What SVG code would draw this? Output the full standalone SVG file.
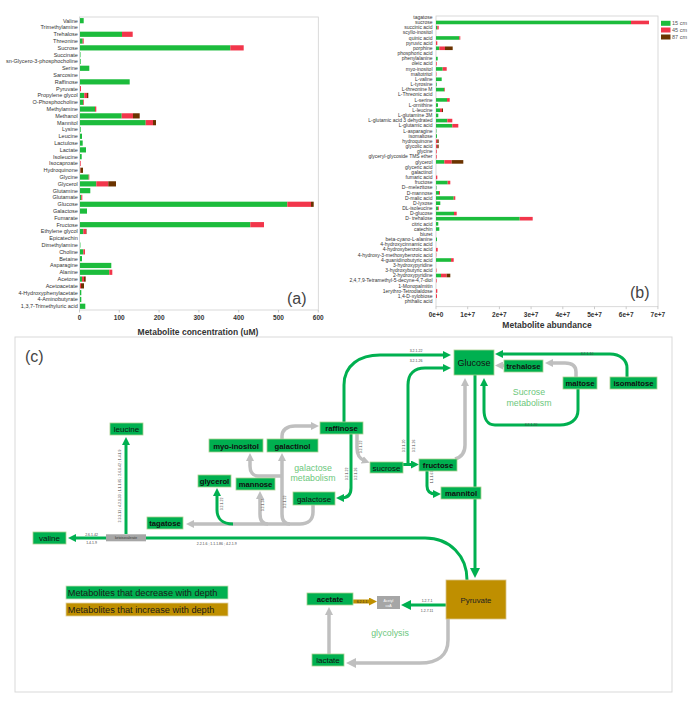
<svg xmlns="http://www.w3.org/2000/svg" width="700" height="706" viewBox="0 0 700 706">
<style>
text{font-family:"Liberation Sans",Arial,sans-serif}
.la{font-size:5.5px;fill:#333;text-anchor:end}
.lb{font-size:5px;fill:#333;text-anchor:end}
.g{fill:#1cbc3c}.r{fill:#f2364b}.b{fill:#6b3300}
.tk{stroke:#999;stroke-width:0.5}
.ax{font-size:6.5px;font-weight:bold;fill:#333;text-anchor:middle}
.at{font-size:8.5px;font-weight:bold;fill:#333;text-anchor:middle}
.pl{font-size:16px;fill:#444}
.nd{fill:#00b050;stroke:#a9d18e;stroke-width:0.8}
.nt{font-size:8px;fill:#111;text-anchor:middle}
.bt{font-size:7.7px;font-weight:bold;fill:#111;text-anchor:middle}
.gl{fill:none;stroke:#00b050;stroke-width:3}
.gy{fill:none;stroke:#bfbfbf;stroke-width:3.5}
.ec{font-size:3.5px;fill:#444;text-anchor:middle}
.mt{font-size:8.8px;fill:#6cc77c;text-anchor:middle}
</style>
<defs>
<marker id="ag" markerUnits="userSpaceOnUse" markerWidth="8" markerHeight="8" refX="3" refY="4" orient="auto"><path d="M0,0L8,4L0,8z" fill="#00b050"/></marker>
<marker id="agb" markerUnits="userSpaceOnUse" markerWidth="10" markerHeight="10" refX="4" refY="5" orient="auto"><path d="M0,0L10,5L0,10z" fill="#00b050"/></marker>
<marker id="ay" markerUnits="userSpaceOnUse" markerWidth="8" markerHeight="8" refX="3" refY="4" orient="auto"><path d="M0,0L8,4L0,8z" fill="#bfbfbf"/></marker>
<marker id="ayb" markerUnits="userSpaceOnUse" markerWidth="10" markerHeight="10" refX="4" refY="5" orient="auto"><path d="M0,0L10,5L0,10z" fill="#bfbfbf"/></marker>
<marker id="ao" markerUnits="userSpaceOnUse" markerWidth="8" markerHeight="8" refX="3" refY="4" orient="auto"><path d="M0,0L8,4L0,8z" fill="#bf8f00"/></marker>
</defs>
<rect width="700" height="706" fill="#fff"/>

<!-- Panel (a) -->
<g id="chart-a">
<rect x="79.5" y="17" width="238.8" height="293" fill="none" stroke="#d0d0d0" stroke-width="0.8"/>
<path class="tk" d="M79.5 310v2.5M119.3 310v2.5M159.1 310v2.5M198.9 310v2.5M238.7 310v2.5M278.5 310v2.5M318.3 310v2.5"/>
<text class="ax" x="79.5" y="319.7">0</text><text class="ax" x="119.3" y="319.7">100</text><text class="ax" x="159.1" y="319.7">200</text><text class="ax" x="198.9" y="319.7">300</text><text class="ax" x="238.7" y="319.7">400</text><text class="ax" x="278.5" y="319.7">500</text><text class="ax" x="318.3" y="319.7">600</text>
<text class="at" x="198" y="334.5">Metabolite concentration (uM)</text>
<text class="pl" x="287" y="304">(a)</text>
<g transform="translate(0,20.67)"><text class="la" x="77.8" y="1.9">Valine</text><rect class="g" x="80" y="-2.6" width="3.7" height="5.2"/></g>
<g transform="translate(0,27.47)"><text class="la" x="77.8" y="1.9">Trimethylamine</text></g>
<g transform="translate(0,34.27)"><text class="la" x="77.8" y="1.9">Trehalose</text><rect class="g" x="80" y="-2.6" width="42" height="5.2"/><rect class="r" x="122" y="-2.6" width="10.7" height="5.2"/></g>
<g transform="translate(0,41.07)"><text class="la" x="77.8" y="1.9">Threonine</text><rect class="g" x="80" y="-2.6" width="2.7" height="5.2"/><rect class="r" x="82.7" y="-2.6" width="1" height="5.2"/></g>
<g transform="translate(0,47.87)"><text class="la" x="77.8" y="1.9">Sucrose</text><rect class="g" x="80" y="-2.6" width="150.3" height="5.2"/><rect class="r" x="230.3" y="-2.6" width="13.4" height="5.2"/></g>
<g transform="translate(0,54.67)"><text class="la" x="77.8" y="1.9">Succinate</text><rect class="g" x="80" y="-2.6" width="0.5" height="5.2"/></g>
<g transform="translate(0,61.47)"><text class="la" x="77.8" y="1.9">sn-Glycero-3-phosphocholine</text><rect class="g" x="80" y="-2.6" width="0.7" height="5.2"/></g>
<g transform="translate(0,68.27)"><text class="la" x="77.8" y="1.9">Serine</text><rect class="g" x="80" y="-2.6" width="9.3" height="5.2"/></g>
<g transform="translate(0,75.07)"><text class="la" x="77.8" y="1.9">Sarcosine</text></g>
<g transform="translate(0,81.87)"><text class="la" x="77.8" y="1.9">Raffinose</text><rect class="g" x="80" y="-2.6" width="49.7" height="5.2"/></g>
<g transform="translate(0,88.67)"><text class="la" x="77.8" y="1.9">Pyruvate</text><rect class="r" x="80" y="-2.6" width="1" height="5.2"/></g>
<g transform="translate(0,95.47)"><text class="la" x="77.8" y="1.9">Propylene glycol</text><rect class="g" x="80" y="-2.6" width="4.3" height="5.2"/><rect class="r" x="84.3" y="-2.6" width="2.7" height="5.2"/><rect class="b" x="87" y="-2.6" width="1.3" height="5.2"/></g>
<g transform="translate(0,102.27)"><text class="la" x="77.8" y="1.9">O-Phosphocholine</text><rect class="g" x="80" y="-2.6" width="3.3" height="5.2"/><rect class="r" x="83.3" y="-2.6" width="0.7" height="5.2"/></g>
<g transform="translate(0,109.07)"><text class="la" x="77.8" y="1.9">Methylamine</text><rect class="g" x="80" y="-2.6" width="15" height="5.2"/><rect class="r" x="95" y="-2.6" width="1.3" height="5.2"/></g>
<g transform="translate(0,115.87)"><text class="la" x="77.8" y="1.9">Methanol</text><rect class="g" x="80" y="-2.6" width="41.7" height="5.2"/><rect class="r" x="121.7" y="-2.6" width="11.3" height="5.2"/><rect class="b" x="133" y="-2.6" width="6.7" height="5.2"/></g>
<g transform="translate(0,122.67)"><text class="la" x="77.8" y="1.9">Mannitol</text><rect class="g" x="80" y="-2.6" width="65.7" height="5.2"/><rect class="r" x="145.7" y="-2.6" width="7.3" height="5.2"/><rect class="b" x="153" y="-2.6" width="3" height="5.2"/></g>
<g transform="translate(0,129.47)"><text class="la" x="77.8" y="1.9">Lysine</text><rect class="g" x="80" y="-2.6" width="0.7" height="5.2"/></g>
<g transform="translate(0,136.27)"><text class="la" x="77.8" y="1.9">Leucine</text><rect class="g" x="80" y="-2.6" width="2" height="5.2"/></g>
<g transform="translate(0,143.07)"><text class="la" x="77.8" y="1.9">Lactulose</text><rect class="g" x="80" y="-2.6" width="2.7" height="5.2"/></g>
<g transform="translate(0,149.87)"><text class="la" x="77.8" y="1.9">Lactate</text><rect class="g" x="80" y="-2.6" width="6" height="5.2"/></g>
<g transform="translate(0,156.67)"><text class="la" x="77.8" y="1.9">Isoleucine</text><rect class="g" x="80" y="-2.6" width="1.7" height="5.2"/></g>
<g transform="translate(0,163.47)"><text class="la" x="77.8" y="1.9">Isocaproate</text><rect class="r" x="80" y="-2.6" width="0.7" height="5.2"/></g>
<g transform="translate(0,170.27)"><text class="la" x="77.8" y="1.9">Hydroquinone</text><rect class="r" x="80" y="-2.6" width="0.5" height="5.2"/><rect class="b" x="80.5" y="-2.6" width="2.5" height="5.2"/></g>
<g transform="translate(0,177.07)"><text class="la" x="77.8" y="1.9">Glycine</text><rect class="g" x="80" y="-2.6" width="8.7" height="5.2"/><rect class="r" x="88.7" y="-2.6" width="0.6" height="5.2"/></g>
<g transform="translate(0,183.87)"><text class="la" x="77.8" y="1.9">Glycerol</text><rect class="g" x="80" y="-2.6" width="16.3" height="5.2"/><rect class="r" x="96.3" y="-2.6" width="12" height="5.2"/><rect class="b" x="108.3" y="-2.6" width="7.7" height="5.2"/></g>
<g transform="translate(0,190.67)"><text class="la" x="77.8" y="1.9">Glutamine</text><rect class="g" x="80" y="-2.6" width="10.3" height="5.2"/></g>
<g transform="translate(0,197.47)"><text class="la" x="77.8" y="1.9">Glutamate</text><rect class="g" x="80" y="-2.6" width="1.3" height="5.2"/><rect class="r" x="81.3" y="-2.6" width="1" height="5.2"/></g>
<g transform="translate(0,204.27)"><text class="la" x="77.8" y="1.9">Glucose</text><rect class="g" x="80" y="-2.6" width="207.3" height="5.2"/><rect class="r" x="287.3" y="-2.6" width="23.7" height="5.2"/><rect class="b" x="311" y="-2.6" width="2.7" height="5.2"/></g>
<g transform="translate(0,211.07)"><text class="la" x="77.8" y="1.9">Galactose</text><rect class="g" x="80" y="-2.6" width="7" height="5.2"/></g>
<g transform="translate(0,217.87)"><text class="la" x="77.8" y="1.9">Fumarate</text></g>
<g transform="translate(0,224.67)"><text class="la" x="77.8" y="1.9">Fructose</text><rect class="g" x="80" y="-2.6" width="170.3" height="5.2"/><rect class="r" x="250.3" y="-2.6" width="13.7" height="5.2"/></g>
<g transform="translate(0,231.47)"><text class="la" x="77.8" y="1.9">Ethylene glycol</text><rect class="g" x="80" y="-2.6" width="3.3" height="5.2"/><rect class="r" x="83.3" y="-2.6" width="2.7" height="5.2"/><rect class="b" x="86" y="-2.6" width="0.5" height="5.2"/></g>
<g transform="translate(0,238.27)"><text class="la" x="77.8" y="1.9">Epicatechin</text></g>
<g transform="translate(0,245.07)"><text class="la" x="77.8" y="1.9">Dimethylamine</text><rect class="g" x="80" y="-2.6" width="0.4" height="5.2"/></g>
<g transform="translate(0,251.87)"><text class="la" x="77.8" y="1.9">Choline</text><rect class="g" x="80" y="-2.6" width="3.3" height="5.2"/><rect class="r" x="83.3" y="-2.6" width="1.7" height="5.2"/></g>
<g transform="translate(0,258.67)"><text class="la" x="77.8" y="1.9">Betaine</text><rect class="g" x="80" y="-2.6" width="2" height="5.2"/></g>
<g transform="translate(0,265.47)"><text class="la" x="77.8" y="1.9">Asparagine</text><rect class="g" x="80" y="-2.6" width="31.3" height="5.2"/></g>
<g transform="translate(0,272.27)"><text class="la" x="77.8" y="1.9">Alanine</text><rect class="g" x="80" y="-2.6" width="29.3" height="5.2"/><rect class="r" x="109.3" y="-2.6" width="3" height="5.2"/></g>
<g transform="translate(0,279.07)"><text class="la" x="77.8" y="1.9">Acetone</text><rect class="g" x="80" y="-2.6" width="2" height="5.2"/><rect class="r" x="82" y="-2.6" width="2" height="5.2"/><rect class="b" x="84" y="-2.6" width="1.7" height="5.2"/></g>
<g transform="translate(0,285.87)"><text class="la" x="77.8" y="1.9">Acetoacetate</text><rect class="r" x="80" y="-2.6" width="1" height="5.2"/><rect class="b" x="81" y="-2.6" width="3" height="5.2"/></g>
<g transform="translate(0,292.67)"><text class="la" x="77.8" y="1.9">4-Hydroxyphenylacetate</text><rect class="g" x="80" y="-2.6" width="1.3" height="5.2"/></g>
<g transform="translate(0,299.47)"><text class="la" x="77.8" y="1.9">4-Aminobutyrate</text><rect class="g" x="80" y="-2.6" width="1.3" height="5.2"/></g>
<g transform="translate(0,306.27)"><text class="la" x="77.8" y="1.9">1,3,7-Trimethyluric acid</text><rect class="g" x="80" y="-2.6" width="5.3" height="5.2"/></g>
</g>

<!-- Panel (b) -->
<g id="chart-b">
<rect x="436" y="16" width="222" height="290.7" fill="none" stroke="#d0d0d0" stroke-width="0.8"/>
<path class="tk" d="M436 306.7v2.5M467.7 306.7v2.5M499.4 306.7v2.5M531.1 306.7v2.5M562.8 306.7v2.5M594.5 306.7v2.5M626.2 306.7v2.5M657.9 306.7v2.5"/>
<text class="ax" x="436" y="316.5">0e+0</text><text class="ax" x="467.7" y="316.5">1e+7</text><text class="ax" x="499.4" y="316.5">2e+7</text><text class="ax" x="531.1" y="316.5">3e+7</text><text class="ax" x="562.8" y="316.5">4e+7</text><text class="ax" x="594.5" y="316.5">5e+7</text><text class="ax" x="626.2" y="316.5">6e+7</text><text class="ax" x="657.9" y="316.5">7e+7</text>
<text class="at" x="547" y="328">Metabolite abundance</text>
<text class="pl" x="630" y="297.5">(b)</text>
<g id="legend-b">
<rect class="g" x="661" y="20.8" width="9.5" height="5"/><text x="672" y="25.2" style="font-size:5.5px;fill:#555">15 cm</text>
<rect class="r" x="661" y="27.5" width="9.5" height="5"/><text x="672" y="31.9" style="font-size:5.5px;fill:#555">45 cm</text>
<rect class="b" x="661" y="34.5" width="9.5" height="5"/><text x="672" y="38.9" style="font-size:5.5px;fill:#555">87 cm</text>
</g>
<g transform="translate(0,17.30)"><text class="lb" x="432.5" y="1.7">tagatose</text></g>
<g transform="translate(0,22.46)"><text class="lb" x="432.5" y="1.7">sucrose</text><rect class="g" x="436" y="-1.8" width="195" height="3.6"/><rect class="r" x="631" y="-1.8" width="18" height="3.6"/></g>
<g transform="translate(0,27.63)"><text class="lb" x="432.5" y="1.7">succinic acid</text><rect class="g" x="436" y="-1.8" width="1.3" height="3.6"/><rect class="r" x="437.3" y="-1.8" width="1.4" height="3.6"/></g>
<g transform="translate(0,32.79)"><text class="lb" x="432.5" y="1.7">scyllo-inositol</text></g>
<g transform="translate(0,37.96)"><text class="lb" x="432.5" y="1.7">quinic acid</text><rect class="g" x="436" y="-1.8" width="23.3" height="3.6"/><rect class="r" x="459.3" y="-1.8" width="1" height="3.6"/></g>
<g transform="translate(0,43.12)"><text class="lb" x="432.5" y="1.7">pyruvic acid</text><rect class="r" x="436" y="-1.8" width="1.3" height="3.6"/></g>
<g transform="translate(0,48.28)"><text class="lb" x="432.5" y="1.7">porphine</text><rect class="g" x="436" y="-1.8" width="3.3" height="3.6"/><rect class="r" x="439.3" y="-1.8" width="5.7" height="3.6"/><rect class="b" x="445" y="-1.8" width="7.7" height="3.6"/></g>
<g transform="translate(0,53.45)"><text class="lb" x="432.5" y="1.7">phosphoric acid</text></g>
<g transform="translate(0,58.61)"><text class="lb" x="432.5" y="1.7">phenylalanine</text><rect class="g" x="436" y="-1.8" width="1.7" height="3.6"/></g>
<g transform="translate(0,63.78)"><text class="lb" x="432.5" y="1.7">oleic acid</text><rect class="r" x="436" y="-1.8" width="0.7" height="3.6"/></g>
<g transform="translate(0,68.94)"><text class="lb" x="432.5" y="1.7">myo-inositol</text><rect class="g" x="436" y="-1.8" width="6.7" height="3.6"/><rect class="r" x="442.7" y="-1.8" width="4" height="3.6"/></g>
<g transform="translate(0,74.10)"><text class="lb" x="432.5" y="1.7">maltotritol</text><rect class="r" x="436" y="-1.8" width="0.4" height="3.6"/></g>
<g transform="translate(0,79.27)"><text class="lb" x="432.5" y="1.7">L-valine</text><rect class="g" x="436" y="-1.8" width="5.7" height="3.6"/></g>
<g transform="translate(0,84.43)"><text class="lb" x="432.5" y="1.7">L-tyrosine</text><rect class="g" x="436" y="-1.8" width="0.7" height="3.6"/></g>
<g transform="translate(0,89.60)"><text class="lb" x="432.5" y="1.7">L-threonine M</text><rect class="g" x="436" y="-1.8" width="8.3" height="3.6"/><rect class="r" x="444.3" y="-1.8" width="0.7" height="3.6"/></g>
<g transform="translate(0,94.76)"><text class="lb" x="432.5" y="1.7">L-Threonic acid</text></g>
<g transform="translate(0,99.92)"><text class="lb" x="432.5" y="1.7">L-serine</text><rect class="g" x="436" y="-1.8" width="11" height="3.6"/><rect class="r" x="447" y="-1.8" width="2.7" height="3.6"/></g>
<g transform="translate(0,105.09)"><text class="lb" x="432.5" y="1.7">L-ornithine</text><rect class="g" x="436" y="-1.8" width="2" height="3.6"/></g>
<g transform="translate(0,110.25)"><text class="lb" x="432.5" y="1.7">L-leucine</text><rect class="g" x="436" y="-1.8" width="4" height="3.6"/><rect class="r" x="440" y="-1.8" width="2" height="3.6"/><rect class="b" x="442" y="-1.8" width="1" height="3.6"/></g>
<g transform="translate(0,115.42)"><text class="lb" x="432.5" y="1.7">L-glutamine 3M</text><rect class="g" x="436" y="-1.8" width="2.3" height="3.6"/></g>
<g transform="translate(0,120.58)"><text class="lb" x="432.5" y="1.7">L-glutamic acid 3 dehydrated</text><rect class="g" x="436" y="-1.8" width="11.3" height="3.6"/><rect class="r" x="447.3" y="-1.8" width="5" height="3.6"/></g>
<g transform="translate(0,125.74)"><text class="lb" x="432.5" y="1.7">L-glutamic acid</text><rect class="g" x="436" y="-1.8" width="16.3" height="3.6"/><rect class="r" x="452.3" y="-1.8" width="6" height="3.6"/></g>
<g transform="translate(0,130.91)"><text class="lb" x="432.5" y="1.7">L-asparagine</text><rect class="g" x="436" y="-1.8" width="0.4" height="3.6"/></g>
<g transform="translate(0,136.07)"><text class="lb" x="432.5" y="1.7">isomaltose</text><rect class="g" x="436" y="-1.8" width="1" height="3.6"/></g>
<g transform="translate(0,141.24)"><text class="lb" x="432.5" y="1.7">hydroquinone</text><rect class="r" x="436" y="-1.8" width="1.3" height="3.6"/><rect class="b" x="437.3" y="-1.8" width="1.4" height="3.6"/></g>
<g transform="translate(0,146.40)"><text class="lb" x="432.5" y="1.7">glycolic acid</text><rect class="r" x="436" y="-1.8" width="1.3" height="3.6"/><rect class="b" x="437.3" y="-1.8" width="1.4" height="3.6"/></g>
<g transform="translate(0,151.56)"><text class="lb" x="432.5" y="1.7">glycine</text><rect class="r" x="436" y="-1.8" width="0.7" height="3.6"/></g>
<g transform="translate(0,156.73)"><text class="lb" x="432.5" y="1.7">glyceryl-glycoside TMS ether</text><rect class="r" x="436" y="-1.8" width="0.7" height="3.6"/></g>
<g transform="translate(0,161.89)"><text class="lb" x="432.5" y="1.7">glycerol</text><rect class="g" x="436" y="-1.8" width="8.3" height="3.6"/><rect class="r" x="444.3" y="-1.8" width="7.4" height="3.6"/><rect class="b" x="451.7" y="-1.8" width="11.6" height="3.6"/></g>
<g transform="translate(0,167.06)"><text class="lb" x="432.5" y="1.7">glyceric acid</text></g>
<g transform="translate(0,172.22)"><text class="lb" x="432.5" y="1.7">galactinol</text></g>
<g transform="translate(0,177.38)"><text class="lb" x="432.5" y="1.7">fumaric acid</text><rect class="r" x="436" y="-1.8" width="1.3" height="3.6"/></g>
<g transform="translate(0,182.55)"><text class="lb" x="432.5" y="1.7">fructose</text><rect class="g" x="436" y="-1.8" width="11.7" height="3.6"/><rect class="r" x="447.7" y="-1.8" width="2.6" height="3.6"/></g>
<g transform="translate(0,187.71)"><text class="lb" x="432.5" y="1.7">D--melezitose</text><rect class="g" x="436" y="-1.8" width="0.5" height="3.6"/></g>
<g transform="translate(0,192.88)"><text class="lb" x="432.5" y="1.7">D-mannose</text><rect class="g" x="436" y="-1.8" width="3" height="3.6"/><rect class="r" x="439" y="-1.8" width="1" height="3.6"/></g>
<g transform="translate(0,198.04)"><text class="lb" x="432.5" y="1.7">D-malic acid</text><rect class="g" x="436" y="-1.8" width="17.7" height="3.6"/><rect class="r" x="453.7" y="-1.8" width="1.6" height="3.6"/></g>
<g transform="translate(0,203.20)"><text class="lb" x="432.5" y="1.7">D-lyxose</text><rect class="g" x="436" y="-1.8" width="4.3" height="3.6"/></g>
<g transform="translate(0,208.37)"><text class="lb" x="432.5" y="1.7">DL-isoleucine</text><rect class="g" x="436" y="-1.8" width="2.3" height="3.6"/><rect class="r" x="438.3" y="-1.8" width="0.7" height="3.6"/></g>
<g transform="translate(0,213.53)"><text class="lb" x="432.5" y="1.7">D-glucose</text><rect class="g" x="436" y="-1.8" width="18" height="3.6"/><rect class="r" x="454" y="-1.8" width="2.7" height="3.6"/></g>
<g transform="translate(0,218.70)"><text class="lb" x="432.5" y="1.7">D- trehalose</text><rect class="g" x="436" y="-1.8" width="83.7" height="3.6"/><rect class="r" x="519.7" y="-1.8" width="13" height="3.6"/></g>
<g transform="translate(0,223.86)"><text class="lb" x="432.5" y="1.7">citric acid</text><rect class="g" x="436" y="-1.8" width="2.3" height="3.6"/></g>
<g transform="translate(0,229.02)"><text class="lb" x="432.5" y="1.7">catechin</text><rect class="g" x="436" y="-1.8" width="3.3" height="3.6"/></g>
<g transform="translate(0,234.19)"><text class="lb" x="432.5" y="1.7">biuret</text></g>
<g transform="translate(0,239.35)"><text class="lb" x="432.5" y="1.7">beta-cyano-L-alanine</text><rect class="g" x="436" y="-1.8" width="1" height="3.6"/></g>
<g transform="translate(0,244.52)"><text class="lb" x="432.5" y="1.7">4-hydroxycinnamic acid</text></g>
<g transform="translate(0,249.68)"><text class="lb" x="432.5" y="1.7">4-hydroxybenzoic acid</text><rect class="r" x="436" y="-1.8" width="1.7" height="3.6"/></g>
<g transform="translate(0,254.84)"><text class="lb" x="432.5" y="1.7">4-hydroxy-3-methoxybenzoic acid</text><rect class="r" x="436" y="-1.8" width="0.3" height="3.6"/></g>
<g transform="translate(0,260.01)"><text class="lb" x="432.5" y="1.7">4-guanidinobutyric acid</text><rect class="g" x="436" y="-1.8" width="15" height="3.6"/><rect class="r" x="451" y="-1.8" width="2.7" height="3.6"/></g>
<g transform="translate(0,265.17)"><text class="lb" x="432.5" y="1.7">3-hydroxypyridine</text></g>
<g transform="translate(0,270.34)"><text class="lb" x="432.5" y="1.7">3-hydroxybutyric acid</text><rect class="r" x="436" y="-1.8" width="0.5" height="3.6"/></g>
<g transform="translate(0,275.50)"><text class="lb" x="432.5" y="1.7">2-hydroxypyridine</text><rect class="g" x="436" y="-1.8" width="5" height="3.6"/><rect class="r" x="441" y="-1.8" width="5.7" height="3.6"/><rect class="b" x="446.7" y="-1.8" width="3.6" height="3.6"/></g>
<g transform="translate(0,280.66)"><text class="lb" x="432.5" y="1.7">2,4,7,9-Tetramethyl-5-decyne-4,7-diol</text><rect class="r" x="436" y="-1.8" width="0.6" height="3.6"/></g>
<g transform="translate(0,285.83)"><text class="lb" x="432.5" y="1.7">1-Monopalmitin</text></g>
<g transform="translate(0,290.99)"><text class="lb" x="432.5" y="1.7">1erythro-Tetrodialdose</text><rect class="r" x="436" y="-1.8" width="1.3" height="3.6"/></g>
<g transform="translate(0,296.16)"><text class="lb" x="432.5" y="1.7">1,4-D-xylobiose</text><rect class="r" x="436" y="-1.8" width="1" height="3.6"/></g>
<g transform="translate(0,301.32)"><text class="lb" x="432.5" y="1.7">phthalic acid</text></g>
</g>

<!-- Panel (c) -->
<rect x="15" y="337" width="657" height="355" fill="none" stroke="#d9d9d9" stroke-width="1"/>
<text class="pl" x="25" y="362">(c)</text>

<g id="connectors">
<path class="gl" d="M467 580C467 556 450 538 425 538L73 538" marker-end="url(#ag)"/>
<path class="gl" d="M126 534L126 442" marker-end="url(#ag)"/>
<path class="gl" d="M475 375L475 572" stroke-width="3.5" marker-end="url(#agb)"/>
<path class="gl" d="M344 422L344 385C344 365 360 355 380 355L446 355" marker-end="url(#ag)"/>
<path class="gl" d="M351 434L351 488Q351 498 341 498" marker-end="url(#ag)"/>
<path class="gy" d="M357 434L357 448C357 456 360 459 365 461" marker-end="url(#ay)"/>
<path class="gl" d="M403 464.5L414 464.5" marker-end="url(#ag)"/>
<path class="gl" d="M408 464L408 385C408 373 415 368 425 368L446 368" marker-end="url(#ag)"/>
<path class="gy" d="M455 459C462 457 465 452 465 445L465 383" marker-end="url(#ay)"/>
<path class="gl" d="M427 471L427 486C427 492 431 494 436 494" marker-end="url(#ag)"/>
<path class="gy" d="M504 365.5L500 365.5" marker-end="url(#ay)"/>
<path class="gy" d="M576 377L576 372C576 366 572 363 565 363L550 363" marker-end="url(#ay)"/>
<path class="gl" d="M627 377L627 368C627 360 620 354 610 354L500 354" marker-end="url(#ag)"/>
<path class="gl" d="M578 388L578 410C578 420 570 425 560 425L495 425C487 425 484 418 484 410L484 383" marker-end="url(#ag)"/>
<path class="gy" d="M313 505L313 512C313 520 308 524 300 524L191 524" marker-end="url(#ay)"/>
<path class="gy" d="M290 524C284 524 282 520 282 514L282 458" marker-end="url(#ay)"/>
<path class="gy" d="M282 476L258 476C253 476 250 472 250 466L250 458" marker-end="url(#ay)"/>
<path class="gy" d="M268 524C262 524 260 520 260 514L260 496" marker-end="url(#ay)"/>
<path class="gl" d="M233 524C222 524 217 518 217 510L217 493" marker-end="url(#ag)"/>
<path class="gy" d="M282 439L282 436C282 430 287 426 295 426L314 426" marker-end="url(#ay)"/>
<path class="gl" d="M446 605L407 605" stroke-width="4" marker-end="url(#agb)"/>
<path fill="none" stroke="#bf8f00" stroke-width="4" d="M353 601.5L372 601.5" marker-end="url(#ao)"/>
<path class="gy" d="M448 619L448 640C448 655 438 663 420 663L352 663" stroke-width="4" marker-end="url(#ayb)"/>
<path class="gy" d="M329 654L329 612" marker-end="url(#ay)"/>
<g id="enzyme-labels">
<text class="ec" x="91.5" y="535.5">2.6.1.42</text>
<text class="ec" x="91.5" y="543.5">1.4.1.9</text>
<text class="ec" x="216.7" y="545">2.2.1.6 ; 1.1.1.86 ; 4.2.1.9</text>
<text class="ec" transform="translate(121,486) rotate(-90)">2.3.3.13 ; 4.2.1.33 ; 1.1.1.85 ; 2.6.1.42 ; 1.4.1.9</text>
<text class="ec" x="416" y="352">3.2.1.22</text>
<text class="ec" x="416" y="361.5">3.2.1.26</text>
<text class="ec" transform="translate(348,474) rotate(-90)">3.2.1.22</text>
<text class="ec" transform="translate(357,474) rotate(-90)">3.2.1.26</text>
<text class="ec" transform="translate(362,447) rotate(-90)">3.2.1.22</text>
<text class="ec" transform="translate(404.5,446) rotate(-90)">3.2.1.20</text>
<text class="ec" transform="translate(414.5,446) rotate(-90)">3.2.1.26</text>
<text class="ec" transform="translate(432.5,477) rotate(-90)">1.1.1.67</text>
<text class="ec" x="587" y="355.3">3.2.1.10</text>
<text class="ec" x="531" y="426.3">3.2.1.20</text>
<text class="ec" transform="translate(223,504) rotate(-90)">3.2.1.22</text>
<text class="ec" transform="translate(264,505) rotate(-90)">3.2.1.24</text>
<text class="ec" transform="translate(286,502) rotate(-90)">3.2.1.22</text>
<text class="ec" x="427" y="601.5">1.2.7.1</text>
<text class="ec" x="427" y="612">1.2.7.11</text>
<text class="ec" x="362" y="602.8" style="fill:#333">6.2.1.1</text>
</g>
</g>

<g id="n-leucine"><rect class="nd" x="110" y="423" width="33" height="12"/><text class="nt" x="126.5" y="432">leucine</text></g>
<g id="n-raffinose"><rect class="nd" x="320" y="422" width="43" height="12"/><text class="bt" x="341.5" y="431">raffinose</text></g>
<g id="n-myo-inositol"><rect class="nd" x="209" y="439" width="54" height="13"/><text class="bt" x="236" y="448.5">myo-inositol</text></g>
<g id="n-galactinol"><rect class="nd" x="267" y="439" width="51" height="13"/><text class="bt" x="292.5" y="448.5">galactinol</text></g>
<g id="n-glycerol"><rect class="nd" x="198" y="475" width="33" height="12"/><text class="bt" x="214.5" y="484">glycerol</text></g>
<g id="n-mannose"><rect class="nd" x="236" y="478" width="39" height="12"/><text class="bt" x="255.5" y="487">mannose</text></g>
<g id="n-galactose"><rect class="nd" x="293" y="492" width="42" height="13"/><text class="nt" x="314" y="501.5">galactose</text></g>
<g id="n-tagatose"><rect class="nd" x="147" y="517" width="36" height="12"/><text class="bt" x="165" y="526">tagatose</text></g>
<g id="n-valine"><rect class="nd" x="33" y="532" width="33" height="12"/><text class="nt" x="49.5" y="541">valine</text></g>
<g id="n-ketoisovalerate"><rect x="106" y="534.3" width="40" height="7" fill="#a6a6a6"/><text x="126" y="539" style="font-size:3.3px;fill:#333;text-anchor:middle">ketoisovalerate</text></g>
<g id="n-glucose"><rect class="nd" x="454" y="350" width="40" height="25"/><text class="nt" x="474" y="366" style="font-size:9px">Glucose</text></g>
<g id="n-trehalose"><rect class="nd" x="504" y="360" width="39" height="12"/><text class="bt" x="523.5" y="369">trehalose</text></g>
<g id="n-maltose"><rect class="nd" x="563" y="377" width="34" height="12"/><text class="bt" x="580" y="386">maltose</text></g>
<g id="n-isomaltose"><rect class="nd" x="610" y="377" width="47" height="12"/><text class="bt" x="633.5" y="386">isomaltose</text></g>
<g id="n-sucrose"><rect class="nd" x="370" y="462" width="33" height="11"/><text class="nt" x="386.5" y="470.5">sucrose</text></g>
<g id="n-fructose"><rect class="nd" x="419" y="459" width="38" height="12"/><text class="bt" x="438" y="468">fructose</text></g>
<g id="n-mannitol"><rect class="nd" x="441" y="487" width="40" height="12"/><text class="bt" x="461" y="496">mannitol</text></g>
<g id="n-acetate"><rect class="nd" x="307" y="593" width="46" height="12"/><text class="bt" x="330" y="602">acetate</text></g>
<g id="n-lactate"><rect class="nd" x="312" y="654" width="32" height="12"/><text class="nt" x="328" y="663">lactate</text></g>
<g id="n-acetylcoa"><rect x="377" y="596" width="23" height="13" fill="#a6a6a6"/><text x="388.5" y="601.5" style="font-size:3.6px;fill:#fff;text-anchor:middle">Acetyl</text><text x="388.5" y="606.8" style="font-size:3.6px;fill:#fff;text-anchor:middle">coA</text></g>
<g id="n-pyruvate"><rect x="446" y="580" width="60" height="39" fill="#bf8f00" stroke="#d9c38a" stroke-width="0.8"/><text x="476" y="602.5" style="font-size:7.8px;fill:#222;text-anchor:middle">Pyruvate</text></g>

<g id="pathway-labels">
<text class="mt" x="313" y="470.5">galactose</text>
<text class="mt" x="313" y="480.5">metabolism</text>
<text class="mt" x="529" y="394.5">Sucrose</text>
<text class="mt" x="529" y="405.5">metabolism</text>
<text class="mt" x="390" y="635.5">glycolysis</text>
</g>

<g id="legend-c">
<rect x="66" y="586" width="162" height="13" fill="#00b050" stroke="#c5e0b4" stroke-width="0.8"/>
<text x="67.8" y="595.8" style="font-size:9.2px;fill:#1a1a1a">Metabolites that decrease with depth</text>
<rect x="66" y="603" width="162" height="13" fill="#bf8f00" stroke="#e0d0a0" stroke-width="0.8"/>
<text x="67.8" y="612.8" style="font-size:9.2px;fill:#1a1a1a">Metabolites that increase with depth</text>
</g>
</svg>
